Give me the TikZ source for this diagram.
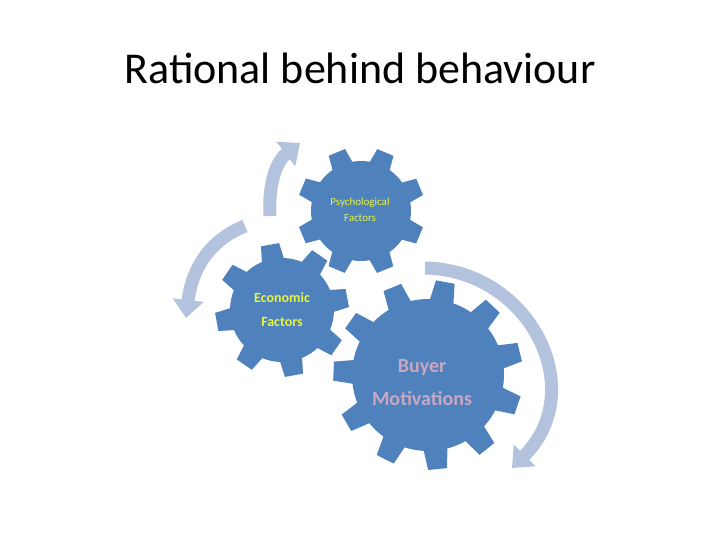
\documentclass[tikz,border=0pt]{standalone}
\usepackage{fontspec}
\setmainfont{Carlito}
\usetikzlibrary{arrows.meta}
\definecolor{gearblue}{HTML}{4F81BD}
\definecolor{arrowblue}{HTML}{B3C3DE}
\definecolor{gearyellow}{HTML}{E6F53C}
\definecolor{gearpink}{HTML}{C8A8C0}
\tikzset{
  turn/.style={draw=arrowblue, line width=13pt, -{Triangle[width=30pt,length=18pt]}},
  label/.style={align=center, text=gearyellow, font=\bfseries}
}
% gear: centre, teeth, inner radius, outer radius, rotation
\newcommand{\gearshape}[5]{%
  \fill[gearblue, shift={(#1)}, rotate=#5] (0:#3)
    \foreach \i in {1,...,#2} {
      arc[start angle={(\i-1)*360/#2}, end angle={(\i-0.55)*360/#2}, radius=#3]
      -- ({(\i-0.45)*360/#2}:#4) -- ({(\i-0.1)*360/#2}:#4) -- ({\i*360/#2}:#3)
    } -- cycle;}
\begin{document}
\begin{tikzpicture}[x=1pt,y=-1pt]
  \useasboundingbox (0,0) rectangle (720,540);
  \node (title) at (360,68) {\fontsize{44}{52}\selectfont Rational behind behaviour};
  \gearshape{361,211}{8}{50}{64}{10}
  \gearshape{282,310}{8}{52}{67}{-2}
  \gearshape{428,375}{11}{76}{95}{5}
  \node[label, font=\fontsize{11}{16}\selectfont] (psy) at (360,210) {Psychological\\Factors};
  \node[label, font=\bfseries\fontsize{14}{24}\selectfont] (eco) at (282,310) {Economic\\Factors};
  \node[label, text=gearpink, font=\bfseries\fontsize{20}{33}\selectfont] (buy) at (422,383) {Buyer\\Motivations};
  \coordinate (a1) at (270,216); \coordinate (b1) at (300,143);
  \coordinate (a2) at (245,226); \coordinate (b2) at (186,318);
  \coordinate (a3) at (425,268); \coordinate (b3) at (512,468);
  \draw[turn] (a1) .. controls (268,180) and (278,160) .. (b1);
  \draw[turn] (a2) .. controls (210,240) and (192,268) .. (b2);
  \draw[turn] (a3) .. controls (530,270) and (590,390) .. (b3);
\end{tikzpicture}
\end{document}
